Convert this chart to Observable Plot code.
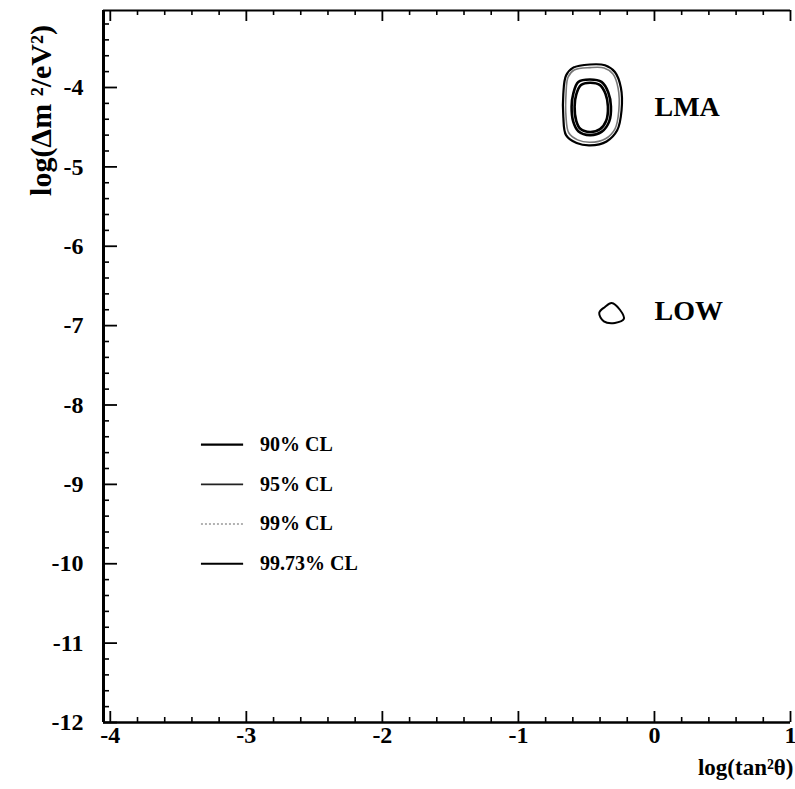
<!DOCTYPE html>
<html>
<head>
<meta charset="utf-8">
<script src="https://cdn.jsdelivr.net/npm/d3@7"></script>
<script src="https://cdn.jsdelivr.net/npm/@observablehq/plot@0.6"></script>
<style>
  html, body { margin: 0; padding: 0; background: white; }
  #chart svg { display: block; }
  g[aria-label="legend-text"] text { letter-spacing: -0.8px; }
</style>
</head>
<body>
<div id="chart"></div>
<script>
// ---- data ----
const xTickLabels = [-4, -3, -2, -1, 0, 1];
const yTickLabels = [-4, -5, -6, -7, -8, -9, -10, -11, -12];

// LMA region contours [log(tan^2 theta), log(dm^2/eV^2)]
const lma90 = [[-0.474,-3.94],[-0.54,-3.97],[-0.575,-4.09],[-0.587,-4.24],[-0.575,-4.42],[-0.545,-4.52],[-0.474,-4.56],[-0.40,-4.525],[-0.355,-4.42],[-0.342,-4.24],[-0.36,-4.08],[-0.40,-3.97]];
const lma95 = [[-0.474,-3.90],[-0.56,-3.93],[-0.597,-4.08],[-0.609,-4.24],[-0.597,-4.43],[-0.56,-4.55],[-0.474,-4.60],[-0.389,-4.56],[-0.333,-4.43],[-0.320,-4.24],[-0.34,-4.06],[-0.389,-3.93]];
const lma99 = [[-0.474,-3.75],[-0.59,-3.78],[-0.635,-3.87],[-0.65,-4.08],[-0.65,-4.37],[-0.63,-4.57],[-0.565,-4.66],[-0.474,-4.69],[-0.36,-4.645],[-0.29,-4.52],[-0.262,-4.29],[-0.267,-4.01],[-0.305,-3.83],[-0.37,-3.755]];
const lma9973 = [[-0.474,-3.71],[-0.597,-3.75],[-0.65,-3.85],[-0.67,-4.08],[-0.67,-4.37],[-0.65,-4.60],[-0.572,-4.70],[-0.474,-4.73],[-0.352,-4.68],[-0.274,-4.54],[-0.242,-4.29],[-0.247,-4.00],[-0.291,-3.805],[-0.364,-3.72]];
// LOW region contour
const low9973 = [[-0.315,-6.715],[-0.254,-6.80],[-0.225,-6.916],[-0.291,-6.966],[-0.372,-6.946],[-0.406,-6.84],[-0.364,-6.765]];

const regionNames = ["LMA", "LOW"];
const regionY = [-4.24, -6.81];

const legendLabels = ["90% CL", "95% CL", "99% CL", "99.73% CL"];
const legendStroke = ["#000", "#222", "#999", "#000"];
const legendWidth = [2.2, 1.6, 1.4, 1.8];
const legendDash = [null, null, "2,2", null];

// ---- layout ----
const xMin = -4.05, xMax = 1, yMin = -12, yMax = -3.03;
const xMinor = d3.range(-4, 1.001, 0.2).map(v => +v.toFixed(2)).filter(v => !xTickLabels.includes(v));
const yMinor = d3.range(-12, -3.1, 0.2).map(v => +v.toFixed(2)).filter(v => !yTickLabels.includes(v));
const yMajorTicks = [-3, ...yTickLabels].filter(v => v <= yMax);

const pxX = (xMax - xMin) / 687;   // data units per pixel horizontally
const pxY = (yMax - yMin) / 712;   // data units per pixel vertically

const marks = [];
// frame
marks.push(Plot.ruleX([xMin], {stroke: "black", strokeWidth: 3}));
marks.push(Plot.ruleY([yMin], {stroke: "black", strokeWidth: 2.5}));
marks.push(Plot.ruleY([yMax], {stroke: "black", strokeWidth: 2}));
// bottom ticks (inward)
marks.push(Plot.ruleX(xTickLabels, {x: d => d, y1: yMin, y2: yMin + 11 * pxY, stroke: "black", strokeWidth: 1.8}));
marks.push(Plot.ruleX(xMinor, {x: d => d, y1: yMin, y2: yMin + 5 * pxY, stroke: "black", strokeWidth: 1.6}));
// top ticks (inward)
marks.push(Plot.ruleX(xTickLabels, {x: d => d, y1: yMax, y2: yMax - 11 * pxY, stroke: "black", strokeWidth: 1.8}));
marks.push(Plot.ruleX(xMinor, {x: d => d, y1: yMax, y2: yMax - 5 * pxY, stroke: "black", strokeWidth: 1.6}));
// left ticks (inward)
marks.push(Plot.ruleY(yMajorTicks, {y: d => d, x1: xMin, x2: xMin + 14 * pxX, stroke: "black", strokeWidth: 1.8}));
marks.push(Plot.ruleY(yMinor, {y: d => d, x1: xMin, x2: xMin + 6 * pxX, stroke: "black", strokeWidth: 1.6}));
// tick labels
marks.push(Plot.text(xTickLabels, {x: d => d, frameAnchor: "bottom", dy: 20, text: d => String(d), fontSize: 24, fontWeight: "bold", fill: "black"}));
marks.push(Plot.text(yTickLabels, {y: d => d, frameAnchor: "left", dx: -20, textAnchor: "end", text: d => String(d), fontSize: 24, fontWeight: "bold", fill: "black"}));
// axis titles
marks.push(Plot.text(["log(tan²θ)"], {frameAnchor: "bottom-right", dx: 3, dy: 52, textAnchor: "end", text: d => d, fontSize: 23, fontWeight: "bold", fill: "black"}));
marks.push(Plot.text(["log(Δm ²/eV²)"], {frameAnchor: "top-left", dx: -74, dy: 100, rotate: -90, textAnchor: "middle", text: d => d, fontSize: 30, fontWeight: "bold", fill: "black", ariaLabel: "ytitle"}));
// contours
const cx = d => d[0], cy = d => d[1];
marks.push(Plot.line(lma9973, {x: cx, y: cy, curve: "catmull-rom-closed", stroke: "black", strokeWidth: 2.2}));
marks.push(Plot.line(lma99, {x: cx, y: cy, curve: "catmull-rom-closed", stroke: "#777", strokeWidth: 1.6}));
marks.push(Plot.line(lma95, {x: cx, y: cy, curve: "catmull-rom-closed", stroke: "black", strokeWidth: 2.6}));
marks.push(Plot.line(lma90, {x: cx, y: cy, curve: "catmull-rom-closed", stroke: "black", strokeWidth: 2.6}));
marks.push(Plot.line(low9973, {x: cx, y: cy, curve: "catmull-rom-closed", stroke: "black", strokeWidth: 2}));
// region labels
marks.push(Plot.text(regionNames, {x: 0, y: (d, i) => regionY[i], text: d => d, textAnchor: "start", fontSize: 28, fontWeight: "bold", fill: "black"}));
// legend
legendLabels.forEach((lab, i) => {
  marks.push(Plot.ruleY([-8.5 - 0.5 * i], {x1: -3.33, x2: -3.02, stroke: legendStroke[i], strokeWidth: legendWidth[i], strokeDasharray: legendDash[i]}));
});
marks.push(Plot.text(legendLabels, {x: -2.9, y: (d, i) => -8.5 - 0.5 * i, text: d => d, textAnchor: "start", fontSize: 20, fontWeight: "bold", fill: "black", ariaLabel: "legend-text"}));

const chart = Plot.plot({
  width: 795,
  height: 789,
  marginLeft: 103,
  marginRight: 5,
  marginTop: 10,
  marginBottom: 67,
  x: {domain: [xMin, xMax], axis: null},
  y: {domain: [yMin, yMax], axis: null},
  style: {fontFamily: "'Liberation Serif', 'DejaVu Serif', serif", background: "white", overflow: "visible"},
  marks
});
document.getElementById("chart").appendChild(chart);
</script>
</body>
</html>
